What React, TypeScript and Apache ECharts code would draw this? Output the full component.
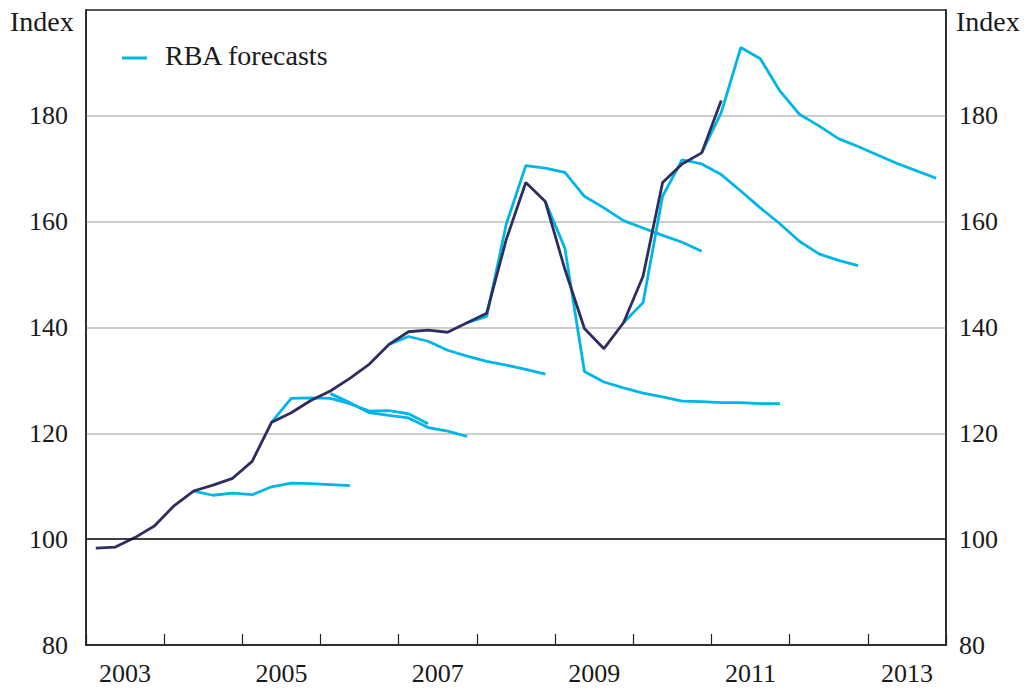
import React, { useEffect, useRef } from "react";
import * as echarts from "echarts";

// Year categories for the bottom axis (each band = one calendar year)
const yearLabels = ["2003", "2004", "2005", "2006", "2007", "2008", "2009", "2010", "2011", "2012", "2013"];

// Actual index, quarterly from 2003 Q1
const actualStart = "2003Q1";
const actualValues = [
  98.3, 98.5, 100.3, 102.5, 106.3, 109.1, 110.2, 111.5, 114.7, 122.1, 123.9, 126.2, 128.0,
  130.4, 133.1, 136.8, 139.2, 139.5, 139.1, 140.9, 142.7, 156.6, 167.4, 163.8, 151.0, 139.8,
  136.0, 140.9, 149.7, 167.4, 170.9, 173.0, 182.9,
];

// RBA forecast vintages (each quarterly, from its start quarter)
const f1Start = "2004Q2";
const f1Values = [109.1, 108.3, 108.7, 108.4, 109.9, 110.6, 110.5, 110.3, 110.1];
const f2Start = "2005Q2";
const f2Values = [122.1, 126.6, 126.7, 126.6, 125.6, 124.2, 124.3, 123.7, 121.8];
const f3Start = "2006Q1";
const f3Values = [127.5, 125.8, 123.9, 123.4, 122.9, 121.1, 120.4, 119.4];
const f4Start = "2006Q4";
const f4Values = [136.8, 138.3, 137.4, 135.7, 134.6, 133.6, 132.9, 132.1, 131.2];
const f5Start = "2007Q4";
const f5Values = [140.9, 142.1, 159.5, 170.6, 170.1, 169.3, 164.8, 162.6, 160.2, 158.8, 157.4, 156.1, 154.4];
const f6Start = "2008Q4";
const f6Values = [163.8, 155.0, 131.7, 129.7, 128.6, 127.6, 126.9, 126.1, 126.0, 125.8, 125.8, 125.6, 125.6];
const f7Start = "2009Q4";
const f7Values = [140.9, 144.7, 164.8, 171.7, 170.9, 168.9, 165.8, 162.6, 159.6, 156.3, 153.9, 152.7, 151.7];
const f8Start = "2010Q4";
const f8Values = [173.0, 180.6, 192.9, 190.8, 184.7, 180.3, 178.1, 175.7, 174.2, 172.6, 171.0, 169.6, 168.2];

const forecasts: [string, number[]][] = [
  [f1Start, f1Values],
  [f2Start, f2Values],
  [f3Start, f3Values],
  [f4Start, f4Values],
  [f5Start, f5Values],
  [f6Start, f6Values],
  [f7Start, f7Values],
  [f8Start, f8Values],
];

// Quarter label -> time value at mid-quarter
function toPairs(start: string, values: number[]): [number, number][] {
  const y = parseInt(start.slice(0, 4), 10);
  const q = parseInt(start.slice(5), 10);
  return values.map((v, i) => [y + (q - 1 + i + 0.5) / 4, v]);
}

const FONT = "'Liberation Serif', 'Times New Roman', serif";
const LIGHT = "#00B5E8";
const DARK = "#2E2D5F";
const TEXT = "#1a1a1a";

export default function App() {
  const ref = useRef<HTMLDivElement>(null);

  useEffect(() => {
    document.body.style.margin = "0";
    if (!ref.current) return;
    const chart = echarts.init(ref.current, undefined, { renderer: "svg" });

    const forecastSeries = forecasts.map(([s, vals]) => ({
      name: "RBA forecasts",
      type: "line",
      xAxisIndex: 1,
      yAxisIndex: 0,
      data: toPairs(s, vals),
      symbol: "none",
      lineStyle: { color: LIGHT, width: 2.8 },
      itemStyle: { color: LIGHT },
      z: 3,
    }));

    chart.setOption({
      animation: false,
      grid: {
        left: 86,
        right: 80,
        top: 10,
        bottom: 46,
        show: true,
        borderColor: "#222",
        borderWidth: 1.5,
        backgroundColor: "transparent",
      },
      xAxis: [
        {
          type: "category",
          data: yearLabels,
          boundaryGap: true,
          position: "bottom",
          axisLine: { show: true, lineStyle: { color: "#222", width: 1.5 } },
          axisTick: {
            show: true,
            inside: true,
            length: 11,
            interval: 0,
            alignWithLabel: false,
            lineStyle: { color: "#222", width: 1.2 },
          },
          axisLabel: {
            interval: 1,
            fontSize: 26,
            fontFamily: FONT,
            color: TEXT,
            margin: 15,
          },
          splitLine: { show: false },
        },
        {
          type: "value",
          min: 2003,
          max: 2014,
          show: false,
        },
      ],
      yAxis: [
        {
          type: "value",
          min: 80,
          max: 200,
          interval: 20,
          position: "left",
          axisLine: { show: true, lineStyle: { color: "#222", width: 1.5 } },
          axisTick: { show: false },
          axisLabel: {
            formatter: (v: number) => (v === 200 ? "" : String(v)),
            fontSize: 26,
            fontFamily: FONT,
            color: TEXT,
            margin: 18,
          },
          splitLine: {
            show: true,
            showMinLine: false,
            showMaxLine: false,
            lineStyle: { color: "#bdbdbd", width: 1.5 },
          },
        },
        {
          type: "value",
          min: 80,
          max: 200,
          interval: 20,
          position: "right",
          axisLine: { show: true, lineStyle: { color: "#222", width: 1.5 } },
          axisTick: { show: false },
          axisLabel: {
            formatter: (v: number) => (v === 200 ? "" : String(v)),
            fontSize: 26,
            fontFamily: FONT,
            color: TEXT,
            margin: 13,
          },
          splitLine: { show: false },
        },
      ],
      series: [
        ...forecastSeries,
        {
          name: "Actual",
          type: "line",
          xAxisIndex: 1,
          yAxisIndex: 0,
          data: toPairs(actualStart, actualValues),
          symbol: "none",
          lineStyle: { color: DARK, width: 2.8 },
          itemStyle: { color: DARK },
          z: 4,
          markLine: {
            silent: true,
            symbol: "none",
            label: { show: false },
            lineStyle: { color: "#111", width: 1.5, type: "solid" },
            data: [{ yAxis: 100 }],
          },
        },
      ],
      graphic: [
        {
          type: "text",
          left: 10,
          top: 7,
          style: { text: "Index", fontSize: 28, fontFamily: FONT, fill: TEXT },
        },
        {
          type: "text",
          left: 956,
          top: 7,
          style: { text: "Index", fontSize: 28, fontFamily: FONT, fill: TEXT },
        },
        {
          type: "line",
          shape: { x1: 122, y1: 58, x2: 147, y2: 58 },
          style: { stroke: LIGHT, lineWidth: 3 },
        },
        {
          type: "text",
          left: 165,
          top: 41,
          style: { text: "RBA forecasts", fontSize: 28, fontFamily: FONT, fill: TEXT },
        },
      ],
    });

    return () => chart.dispose();
  }, []);

  return <div ref={ref} style={{ width: 1026, height: 691 }} />;
}
